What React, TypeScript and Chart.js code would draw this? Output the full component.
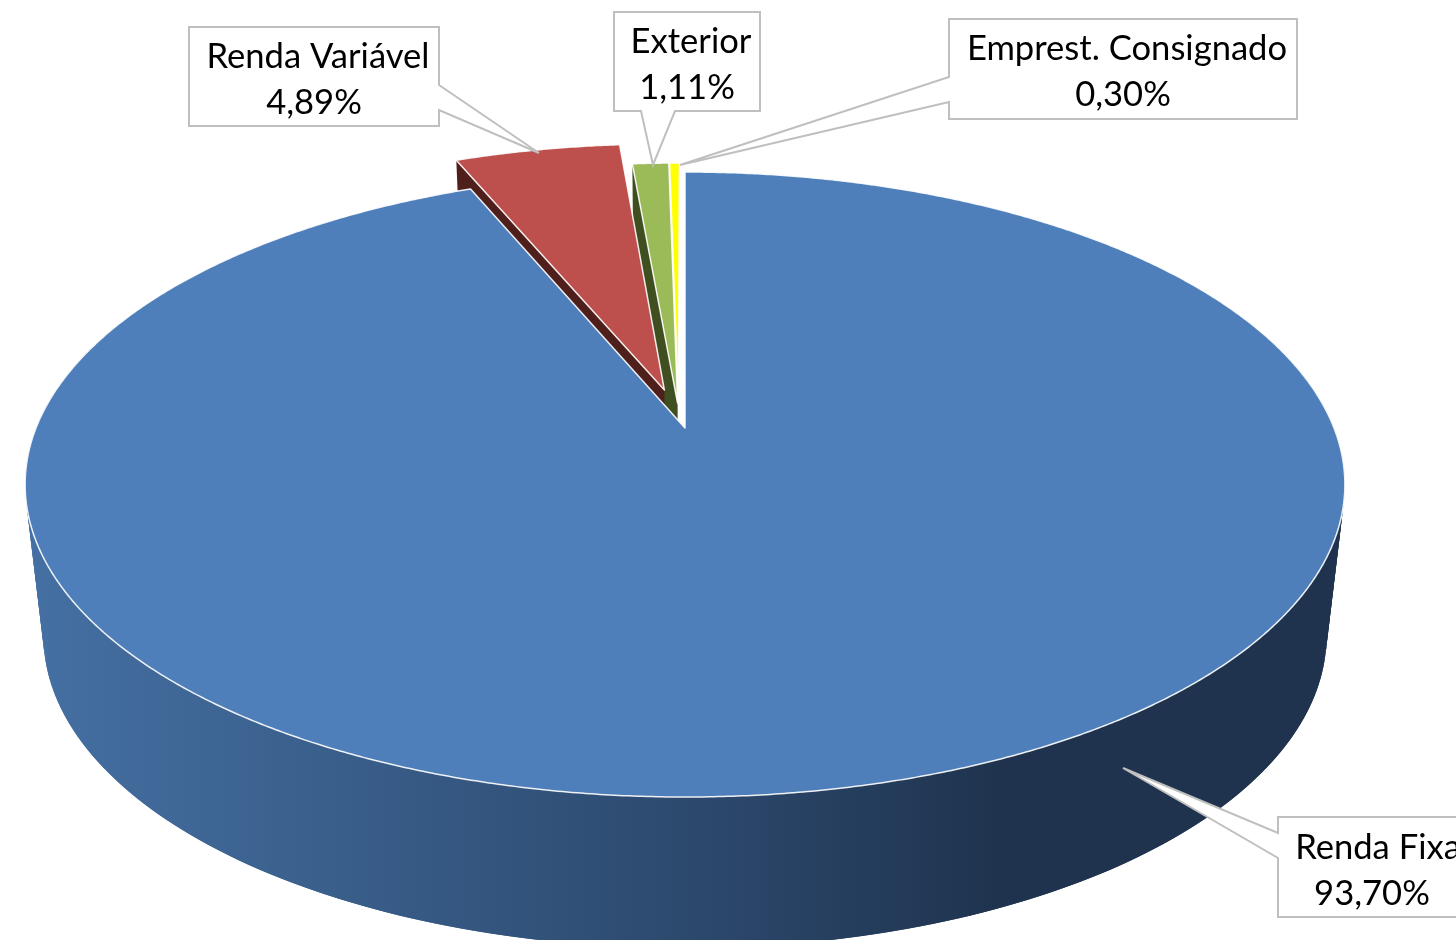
import React, { useEffect, useRef } from "react";
import { Chart, registerables } from "chart.js";

Chart.register(...registerables);

// ---- data ----
const categories = ["Renda Fixa", "Renda Variável", "Exterior", "Emprest. Consignado"];
const shares = [93.7, 4.89, 1.11, 0.3];
const shareLabels = ["93,70%", "4,89%", "1,11%", "0,30%"];

// ---- styles ----
const topColors = ["#4e7fba", "#bd4f4c", "#9bbb59", "#ffff00"];
const cutColors = ["#1f3550", "#4f1f1c", "#3f4f20", "#666600"];
const explodePx = [0, 87.5, 55.8, 55.8];
const explodeTiltDeg = [0, -0.3, -4.8, -6.4];
const sliceScale = [1, 1.004, 0.958, 0.958];
const RADIUS = 660;

type Plane = { a: number; y0: number; b: number };
const TOP: Plane = { a: 649, y0: 428, b: 302.3 };
const BOTTOM: Plane = { a: 631, y0: 579.5, b: 302 };
const CX = 685;
const K = -0.1808;

const project = (x: number, y: number, p: Plane): [number, number] => {
  const w = 1 + K * y;
  return [CX + (p.a * x) / w, p.y0 + (p.b * y) / w];
};

type Callout = {
  box: [number, number, number, number];
  base: [[number, number], [number, number]];
  tip: [number, number];
  line1: [number, number];
  line2: [number, number];
  side: "left" | "right" | "bottom";
};
const callouts: Callout[] = [
  { box: [1278, 817, 1500, 917], base: [[1278, 833], [1278, 858]], tip: [1123, 768], line1: [1378, 848], line2: [1372, 894], side: "left" },
  { box: [189, 27, 439, 126], base: [[439, 85], [439, 110]], tip: [539, 153], line1: [318, 57], line2: [314, 103], side: "right" },
  { box: [614, 12, 760, 111], base: [[641, 111], [675, 111]], tip: [653, 165], line1: [691, 42], line2: [687, 88], side: "bottom" },
  { box: [949, 19, 1297, 119], base: [[949, 77], [949, 102]], tip: [680, 165], line1: [1127, 49], line2: [1123, 95], side: "left" },
];

const pseudoPlugin = {
  id: "perspectivePie",
  beforeDatasetsDraw(chart: any) {
    const ctx: CanvasRenderingContext2D = chart.ctx;
    const arcs = chart.getDatasetMeta(0).data as any[];

    const geom = arcs.map((arc, i) => {
      const { startAngle, endAngle } = arc.getProps(["startAngle", "endAngle"], true);
      const mid = (startAngle + endAngle) / 2 + (explodeTiltDeg[i] * Math.PI) / 180;
      const off = (arc.options.offset || 0) / RADIUS;
      return { startAngle, endAngle, ox: Math.cos(mid) * off, oy: Math.sin(mid) * off, r: sliceScale[i] };
    });

    const tracePoint = (g: any, a: number, r: number, p: Plane) =>
      project(g.ox + Math.cos(a) * r, g.oy + Math.sin(a) * r, p);

    const drawTop = (i: number) => {
      const g = geom[i];
      ctx.beginPath();
      const apex = project(g.ox, g.oy, TOP);
      ctx.moveTo(apex[0], apex[1]);
      const steps = Math.max(4, Math.ceil((g.endAngle - g.startAngle) / 0.006));
      for (let s = 0; s <= steps; s++) {
        const a = g.startAngle + ((g.endAngle - g.startAngle) * s) / steps;
        const pt = tracePoint(g, a, g.r, TOP);
        ctx.lineTo(pt[0], pt[1]);
      }
      ctx.closePath();
      ctx.fillStyle = topColors[i];
      ctx.fill();
      ctx.strokeStyle = "rgba(255,255,255,0.9)";
      ctx.lineWidth = 1.5;
      ctx.lineJoin = "round";
      ctx.stroke();
    };

    const drawCut = (i: number) => {
      const g = geom[i];
      const a = tracePoint(g, g.startAngle, g.r, TOP);
      const b = project(g.ox, g.oy, TOP);
      const c = project(g.ox, g.oy, BOTTOM);
      const d = tracePoint(g, g.startAngle, g.r, BOTTOM);
      ctx.beginPath();
      ctx.moveTo(a[0], a[1]);
      ctx.lineTo(b[0], b[1]);
      ctx.lineTo(c[0], c[1]);
      ctx.lineTo(d[0], d[1]);
      ctx.closePath();
      ctx.fillStyle = cutColors[i];
      ctx.fill();
    };

    // outer wall of the big slice
    const grad = ctx.createLinearGradient(25, 0, 1345, 0);
    grad.addColorStop(0, "#4570a3");
    grad.addColorStop(0.28, "#375b86");
    grad.addColorStop(0.55, "#2a4568");
    grad.addColorStop(0.74, "#1f334e");
    grad.addColorStop(1, "#1f334e");
    ctx.save();
    ctx.fillStyle = grad;
    const g0 = geom[0];
    const from = -Math.PI / 2 + (70 * Math.PI) / 180;
    const to = -Math.PI / 2 + (290 * Math.PI) / 180;
    const n = 220;
    for (let s = 0; s < n; s++) {
      const a1 = from + ((to - from) * s) / n;
      const a2 = from + ((to - from) * Math.min(n, s + 2)) / n;
      const p1 = tracePoint(g0, a1, 1, TOP);
      const p2 = tracePoint(g0, a2, 1, TOP);
      const p3 = tracePoint(g0, a2, 1, BOTTOM);
      const p4 = tracePoint(g0, a1, 1, BOTTOM);
      ctx.beginPath();
      ctx.moveTo(p1[0], p1[1]);
      ctx.lineTo(p2[0], p2[1]);
      ctx.lineTo(p3[0], p3[1]);
      ctx.lineTo(p4[0], p4[1]);
      ctx.closePath();
      ctx.fill();
    }

    drawCut(2);
    drawTop(2);
    drawTop(3);
    drawCut(1);
    drawTop(1);
    drawTop(0);
    ctx.restore();
    return false;
  },
  afterDraw(chart: any) {
    const ctx: CanvasRenderingContext2D = chart.ctx;
    ctx.save();
    callouts.forEach((c, i) => {
      const [x0, y0, x1, y1] = c.box;
      ctx.beginPath();
      ctx.moveTo(x0, y0);
      ctx.lineTo(x1, y0);
      if (c.side === "right") {
        ctx.lineTo(x1, c.base[0][1]);
        ctx.lineTo(c.tip[0], c.tip[1]);
        ctx.lineTo(x1, c.base[1][1]);
      }
      ctx.lineTo(x1, y1);
      if (c.side === "bottom") {
        ctx.lineTo(c.base[1][0], y1);
        ctx.lineTo(c.tip[0], c.tip[1]);
        ctx.lineTo(c.base[0][0], y1);
      }
      ctx.lineTo(x0, y1);
      if (c.side === "left") {
        ctx.lineTo(x0, c.base[1][1]);
        ctx.lineTo(c.tip[0], c.tip[1]);
        ctx.lineTo(x0, c.base[0][1]);
      }
      ctx.closePath();
      ctx.fillStyle = "#ffffff";
      ctx.fill();
      ctx.strokeStyle = "#bfbfbf";
      ctx.lineWidth = 2;
      ctx.lineJoin = "miter";
      ctx.stroke();

      ctx.fillStyle = "#000000";
      ctx.font = '34.6px Lato, "Open Sans", sans-serif';
      ctx.textAlign = "center";
      ctx.textBaseline = "middle";
      ctx.fillText(categories[i], c.line1[0], c.line1[1]);
      ctx.fillText(shareLabels[i], c.line2[0], c.line2[1]);
    });
    ctx.restore();
  },
};

export default function App() {
  const ref = useRef<HTMLCanvasElement>(null);
  useEffect(() => {
    document.body.style.margin = "0";
    const chart = new Chart(ref.current as HTMLCanvasElement, {
      type: "pie",
      data: {
        labels: categories,
        datasets: [{ data: shares, backgroundColor: topColors, offset: explodePx, borderWidth: 0 }],
      },
      options: {
        animation: false,
        responsive: false,
        devicePixelRatio: 1,
        radius: RADIUS,
        plugins: { legend: { display: false }, tooltip: { enabled: false } },
      } as any,
      plugins: [pseudoPlugin as any],
    });
    return () => chart.destroy();
  }, []);
  return <canvas ref={ref} width={1456} height={940} style={{ display: "block", width: 1456, height: 940 }} />;
}
